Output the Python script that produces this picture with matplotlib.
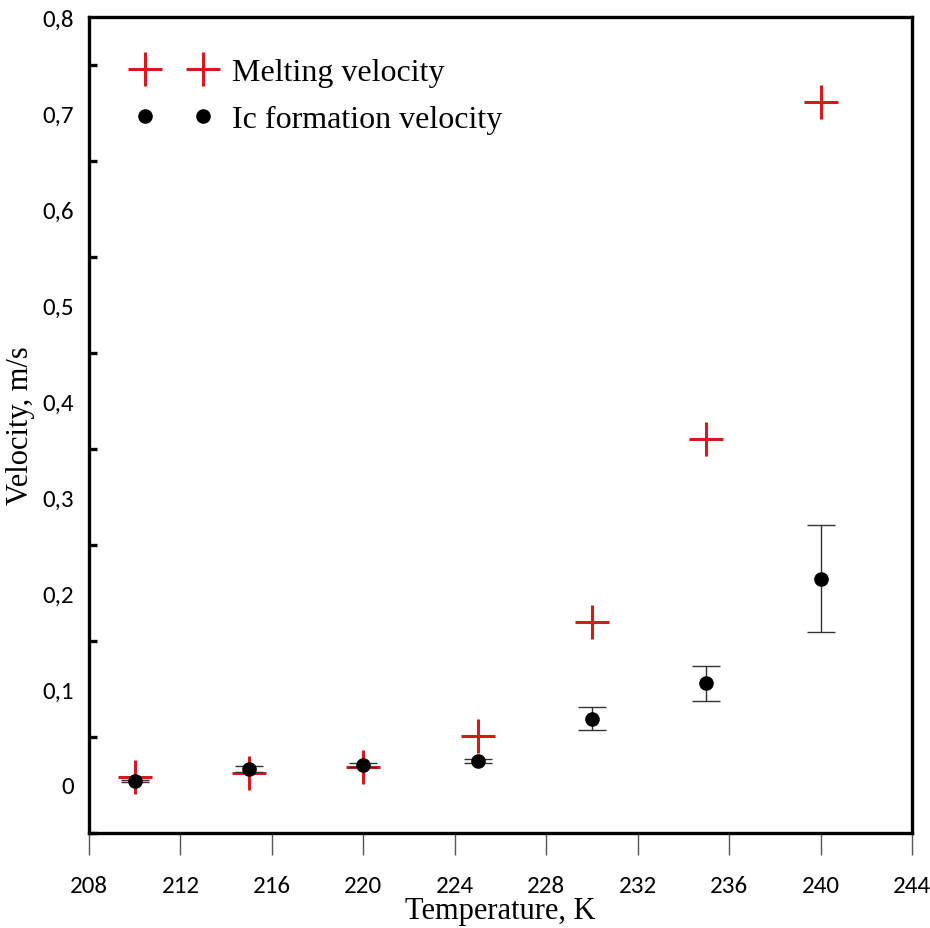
import matplotlib
matplotlib.use('Agg')
import matplotlib.pyplot as plt
from matplotlib.lines import Line2D
from matplotlib.ticker import FixedLocator, FuncFormatter

# data
temps = [210, 215, 220, 225, 230, 235, 240]
melting = [0.008, 0.012, 0.019, 0.051, 0.170, 0.360, 0.711]
ic_vel = [0.004, 0.017, 0.021, 0.025, 0.069, 0.106, 0.215]
ic_err = [0.001, 0.003, 0.002, 0.002, 0.012, 0.018, 0.056]

x_ticks = [208, 212, 216, 220, 224, 228, 232, 236, 240, 244]
y_labels = [0.0, 0.1, 0.2, 0.3, 0.4, 0.5, 0.6, 0.7, 0.8]
y_minor = [-0.05, 0.05, 0.15, 0.25, 0.35, 0.45, 0.55, 0.65, 0.75]

serif = ['Liberation Serif', 'DejaVu Serif']
sans = ['Carlito', 'Liberation Sans', 'DejaVu Sans']

fig = plt.figure(figsize=(9.3, 9.29), dpi=100)
ax = fig.add_axes([89 / 930, 95 / 929, 823 / 930, 816 / 929])

red = '#d7191c'
ax.plot(temps, melting, linestyle='none', marker='+', markersize=24,
        markeredgewidth=2.2, color=red, zorder=2)
ax.errorbar(temps, ic_vel, yerr=ic_err, fmt='o', markersize=9.5, color='black',
            ecolor='#333333', elinewidth=1.0, capsize=10, capthick=1.0, zorder=3)

ax.set_xlim(208, 244)
ax.set_ylim(-0.05, 0.8)

for s in ax.spines.values():
    s.set_linewidth(2.4)

ax.xaxis.set_major_locator(FixedLocator(x_ticks))
ax.tick_params(axis='x', direction='out', length=16, width=1, color='#555555',
               pad=14, labelsize=18)
ax.yaxis.set_major_locator(FixedLocator(y_labels))
ax.yaxis.set_major_formatter(FuncFormatter(
    lambda v, p: '0' if abs(v) < 1e-9 else ('%.1f' % v).replace('.', ',')))
ax.yaxis.set_minor_locator(FixedLocator(y_minor))
ax.tick_params(axis='y', which='major', length=0, pad=11, labelsize=18)
ax.tick_params(axis='y', which='minor', direction='in', length=6, width=2.4)

for lab in ax.get_xticklabels() + ax.get_yticklabels():
    lab.set_family(sans)

ax.set_xlabel('Temperature, K', fontsize=22, family=serif, labelpad=0)
ax.set_ylabel('Velocity, m/s', fontsize=22, family=serif, labelpad=5)

h_melt = Line2D([], [], linestyle='none', marker='+', markersize=24,
                markeredgewidth=2.2, color=red)
h_ic = Line2D([], [], linestyle='none', marker='o', markersize=9.5, color='black')
ax.legend([h_melt, h_ic], ['Melting velocity', 'Ic formation velocity'],
          loc='upper left', numpoints=2, frameon=False,
          prop={'family': serif, 'size': 23}, handlelength=2.4,
          handletextpad=0.6, labelspacing=0.55,
          bbox_to_anchor=(0.022, 0.985))

plt.savefig('out.png', dpi=100)
plt.close()
